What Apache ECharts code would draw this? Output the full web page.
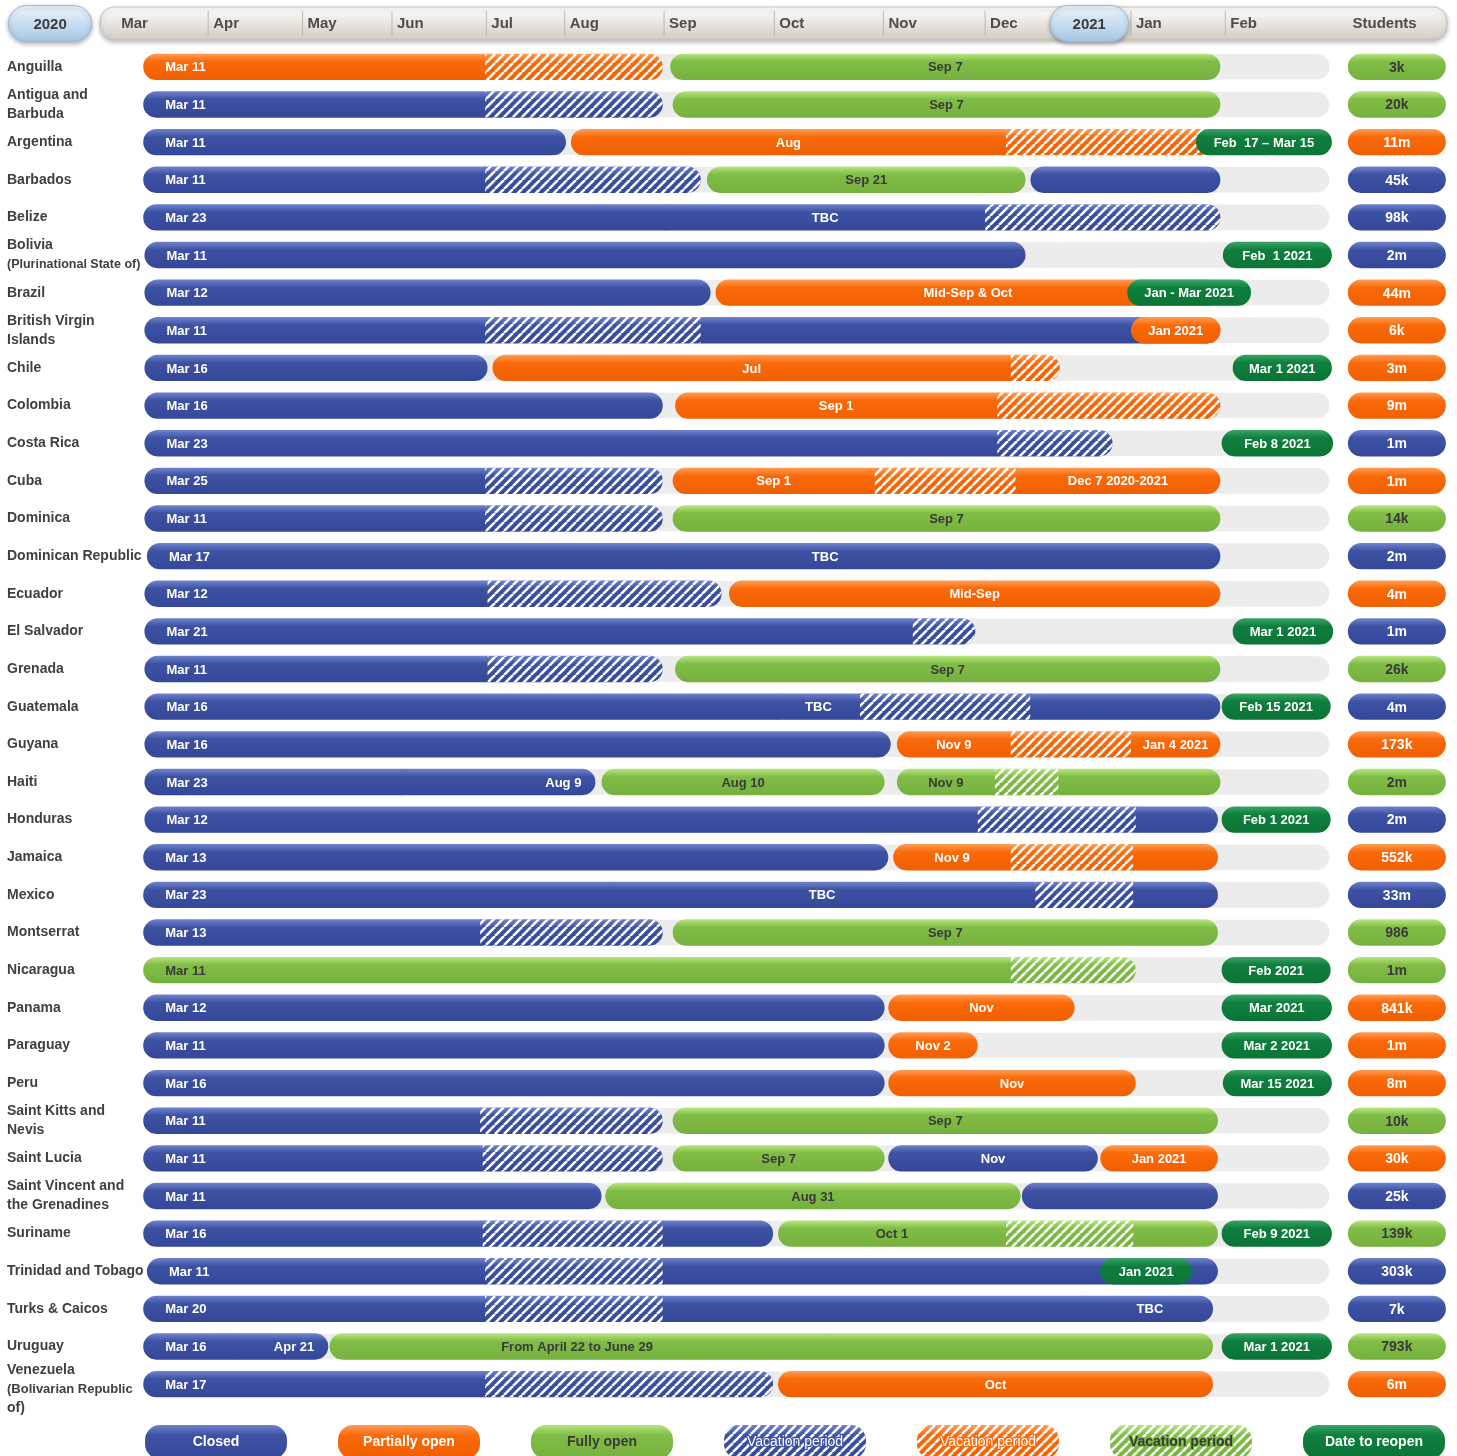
<!DOCTYPE html>
<html>
<head>
<meta charset="utf-8">
<script src="https://cdn.jsdelivr.net/npm/echarts@6/dist/echarts.min.js"></script>
<style>
html, body { margin: 0; padding: 0; background: #fff; }
#main { width: 1457px; height: 1456px; }
</style>
</head>
<body>
<div id="main"></div>
<script>
// timeline unit: 0 = left edge of the Mar column, 100 = end of the grey track
const countries = [
  'Anguilla', 'Antigua and\nBarbuda', 'Argentina', 'Barbados', 'Belize',
  'Bolivia\n(Plurinational State of)', 'Brazil', 'British Virgin\nIslands', 'Chile', 'Colombia',
  'Costa Rica', 'Cuba', 'Dominica', 'Dominican Republic', 'Ecuador',
  'El Salvador', 'Grenada', 'Guatemala', 'Guyana', 'Haiti',
  'Honduras', 'Jamaica', 'Mexico', 'Montserrat', 'Nicaragua',
  'Panama', 'Paraguay', 'Peru', 'Saint Kitts and\nNevis', 'Saint Lucia',
  'Saint Vincent and\nthe Grenadines', 'Suriname', 'Trinidad and Tobago', 'Turks & Caicos', 'Uruguay',
  'Venezuela\n(Bolivarian Republic\nof)'
];
const students = [
  '3k', '20k', '11m', '45k', '98k', '2m', '44m', '6k', '3m', '9m',
  '1m', '1m', '14k', '2m', '4m', '1m', '26k', '4m', '173k', '2m',
  '2m', '552k', '33m', '986', '1m', '841k', '1m', '8m', '10k', '30k',
  '25k', '139k', '303k', '7k', '793k', '6m'
];
const studentKinds = [
  'F', 'F', 'P', 'C', 'C', 'C', 'P', 'P', 'P', 'P',
  'C', 'P', 'F', 'C', 'P', 'C', 'F', 'C', 'P', 'F',
  'C', 'P', 'C', 'F', 'F', 'P', 'P', 'P', 'F', 'P',
  'C', 'F', 'C', 'C', 'F', 'P'
];
// C closed, P partially open, F fully open, R date to reopen; h suffix = vacation period
// [start, end, kind, label, labelAlign]
const rowPieces = [
  [[3.2, 31.1, 'P', 'Mar 11', 'l'], [31.1, 45.6, 'Ph'], [46.2, 91.1, 'F', 'Sep 7']],
  [[3.2, 31.1, 'C', 'Mar 11', 'l'], [31.1, 45.6, 'Ch'], [46.4, 91.1, 'F', 'Sep 7']],
  [[3.2, 37.7, 'C', 'Mar 11', 'l'], [38.1, 73.6, 'P', 'Aug'], [73.6, 90.7, 'Ph'], [89.1, 100.2, 'R', 'Feb  17 – Mar 15']],
  [[3.2, 31.1, 'C', 'Mar 11', 'l'], [31.1, 48.7, 'Ch'], [49.2, 75.2, 'F', 'Sep 21'], [75.6, 91.1, 'C']],
  [[3.2, 45.8, 'C', 'Mar 23', 'l'], [45.8, 71.9, 'C', 'TBC'], [71.9, 91.1, 'Ch']],
  [[3.3, 75.2, 'C', 'Mar 11', 'l'], [91.3, 100.2, 'R', 'Feb  1 2021']],
  [[3.3, 49.5, 'C', 'Mar 12', 'l'], [49.9, 91.1, 'P', 'Mid-Sep & Oct'], [83.5, 93.6, 'R', 'Jan - Mar 2021']],
  [[3.3, 31.1, 'C', 'Mar 11', 'l'], [31.1, 48.7, 'Ch'], [48.7, 91.1, 'C'], [83.8, 91.1, 'P', 'Jan 2021']],
  [[3.3, 31.3, 'C', 'Mar 16', 'l'], [31.7, 74.0, 'P', 'Jul'], [74.0, 78.0, 'Ph'], [92.1, 100.2, 'R', 'Mar 1 2021']],
  [[3.3, 45.6, 'C', 'Mar 16', 'l'], [46.6, 72.9, 'P', 'Sep 1'], [72.9, 91.1, 'Ph']],
  [[3.3, 72.9, 'C', 'Mar 23', 'l'], [72.9, 82.3, 'Ch'], [91.2, 100.3, 'R', 'Feb 8 2021']],
  [[3.3, 31.1, 'C', 'Mar 25', 'l'], [31.1, 45.6, 'Ch'], [46.4, 62.9, 'P', 'Sep 1'], [62.9, 74.4, 'Ph'], [74.4, 91.1, 'P', 'Dec 7 2020-2021']],
  [[3.3, 31.1, 'C', 'Mar 11', 'l'], [31.1, 45.6, 'Ch'], [46.4, 91.1, 'F', 'Sep 7']],
  [[3.5, 45.8, 'C', 'Mar 17', 'l'], [45.8, 71.9, 'C', 'TBC'], [71.9, 91.1, 'C']],
  [[3.3, 31.3, 'C', 'Mar 12', 'l'], [31.3, 50.4, 'Ch'], [51.0, 91.1, 'P', 'Mid-Sep']],
  [[3.3, 66.0, 'C', 'Mar 21', 'l'], [66.0, 71.1, 'Ch'], [92.1, 100.3, 'R', 'Mar 1 2021']],
  [[3.3, 31.3, 'C', 'Mar 11', 'l'], [31.3, 45.6, 'Ch'], [46.6, 91.1, 'F', 'Sep 7']],
  [[3.3, 54.9, 'C', 'Mar 16', 'l'], [54.9, 61.7, 'C', 'TBC'], [61.7, 75.6, 'Ch'], [75.6, 91.1, 'C'], [91.2, 100.1, 'R', 'Feb 15 2021']],
  [[3.3, 64.2, 'C', 'Mar 16', 'l'], [64.7, 74.0, 'P', 'Nov 9'], [74.0, 83.8, 'Ph'], [83.8, 91.1, 'P', 'Jan 4 2021']],
  [[3.3, 24.2, 'C', 'Mar 23', 'l'], [24.2, 40.1, 'C', 'Aug 9', 'r'], [40.6, 63.7, 'F', 'Aug 10'], [64.7, 72.7, 'F', 'Nov 9'], [72.7, 77.9, 'Fh'], [77.9, 91.1, 'F']],
  [[3.3, 71.3, 'C', 'Mar 12', 'l'], [71.3, 84.2, 'Ch'], [84.2, 90.9, 'C'], [91.2, 100.1, 'R', 'Feb 1 2021']],
  [[3.2, 64.0, 'C', 'Mar 13', 'l'], [64.4, 74.0, 'P', 'Nov 9'], [74.0, 84.0, 'Ph'], [84.0, 90.9, 'P']],
  [[3.2, 41.2, 'C', 'Mar 23', 'l'], [41.2, 76.0, 'C', 'TBC'], [76.0, 84.0, 'Ch'], [84.0, 90.9, 'C']],
  [[3.2, 30.7, 'C', 'Mar 13', 'l'], [30.7, 45.6, 'Ch'], [46.4, 90.9, 'F', 'Sep 7']],
  [[3.2, 74.0, 'F', 'Mar 11', 'l'], [74.0, 84.2, 'Fh'], [91.2, 100.1, 'R', 'Feb 2021']],
  [[3.2, 63.7, 'C', 'Mar 12', 'l'], [64.0, 79.2, 'P', 'Nov'], [91.2, 100.2, 'R', 'Mar 2021']],
  [[3.2, 63.7, 'C', 'Mar 11', 'l'], [64.0, 71.3, 'P', 'Nov 2'], [91.2, 100.2, 'R', 'Mar 2 2021']],
  [[3.2, 63.7, 'C', 'Mar 16', 'l'], [64.0, 84.2, 'P', 'Nov'], [91.3, 100.2, 'R', 'Mar 15 2021']],
  [[3.2, 30.7, 'C', 'Mar 11', 'l'], [30.7, 45.6, 'Ch'], [46.4, 90.9, 'F', 'Sep 7']],
  [[3.2, 30.9, 'C', 'Mar 11', 'l'], [30.9, 45.6, 'Ch'], [46.4, 63.7, 'F', 'Sep 7'], [64.0, 81.1, 'C', 'Nov'], [81.3, 90.9, 'P', 'Jan 2021']],
  [[3.2, 40.6, 'C', 'Mar 11', 'l'], [40.9, 74.8, 'F', 'Aug 31'], [74.9, 90.9, 'C']],
  [[3.2, 30.9, 'C', 'Mar 16', 'l'], [30.9, 45.6, 'Ch'], [45.6, 54.6, 'C'], [55.0, 73.6, 'F', 'Oct 1'], [73.6, 84.0, 'Fh'], [84.0, 90.9, 'F'], [91.2, 100.2, 'R', 'Feb 9 2021']],
  [[3.5, 31.1, 'C', 'Mar 11', 'l'], [31.1, 45.6, 'Ch'], [45.6, 90.9, 'C'], [81.3, 88.8, 'R', 'Jan 2021']],
  [[3.2, 31.1, 'C', 'Mar 20', 'l'], [31.1, 45.6, 'Ch'], [45.6, 80.2, 'C'], [80.2, 90.5, 'C', 'TBC']],
  [[3.2, 10.8, 'C', 'Mar 16', 'l'], [10.8, 18.3, 'C', 'Apr 21', 'r'], [18.4, 58.8, 'F', 'From April 22 to June 29'], [58.8, 90.5, 'F'], [91.2, 100.2, 'R', 'Mar 1 2021']],
  [[3.2, 31.1, 'C', 'Mar 17', 'l'], [31.1, 54.6, 'Ch'], [55.0, 90.5, 'P', 'Oct']]
];
const trackEnd = 100;
const studentsColumn = [101.5, 109.5];

const monthLabels = ['Mar', 'Apr', 'May', 'Jun', 'Jul', 'Aug', 'Sep', 'Oct', 'Nov', 'Dec', 'Jan', 'Feb'];
const monthStarts = [1.0, 8.5, 16.2, 23.5, 31.2, 37.6, 45.7, 54.7, 63.6, 71.9, 83.8, 91.5];
const yearBadges = [['2020', -7.8, -1.0], ['2021', 77.2, 83.6]];
const headerSpan = [-0.3, 109.6];
const studentsHeader = ['Students', 104.5];

const legendLabels = ['Closed', 'Partially open', 'Fully open', 'Vacation period', 'Vacation period', 'Vacation period', 'Date to reopen'];
const legendKinds = ['C', 'P', 'F', 'Ch', 'Ph', 'Fh', 'R'];

const FONT = "'Liberation Sans', Arial, sans-serif";
const palette = {
  C: { top: '#7083cf', base: '#3e52a3', bottom: '#34479a', text: '#ffffff' },
  P: { top: '#ff9d55', base: '#fb6a0a', bottom: '#f06000', text: '#ffffff' },
  F: { top: '#b8e67e', base: '#80bd46', bottom: '#76b13e', text: '#3a3a3a' },
  R: { top: '#3aa466', base: '#0f7f3e', bottom: '#0b7436', text: '#ffffff' }
};

function barFill (k) {
  const c = palette[k];
  return new echarts.graphic.LinearGradient(0, 0, 0, 1, [
    { offset: 0, color: c.top },
    { offset: 0.3, color: c.base },
    { offset: 1, color: c.bottom }
  ]);
}

// white diagonal stripes for vacation periods
const stripes = document.createElement('canvas');
stripes.width = 9;
stripes.height = 9;
const sctx = stripes.getContext('2d');
sctx.strokeStyle = '#ffffff';
sctx.lineWidth = 2.6;
sctx.beginPath();
[-9, 0, 9].forEach(o => { sctx.moveTo(o, 9); sctx.lineTo(o + 9, 0); });
sctx.stroke();
const stripeFill = { image: stripes, repeat: 'repeat' };

const pieceInfo = [];
const pieceData = [];
rowPieces.forEach((pieces, row) => {
  pieces.forEach((p, i) => {
    const base = p[2].charAt(0);
    const prev = pieces[i - 1];
    const next = pieces[i + 1];
    pieceInfo.push({
      kind: p[2],
      label: p[3] || '',
      align: p[4] || 'c',
      joinL: !!(prev && prev[1] === p[0] && prev[2].charAt(0) === base),
      joinR: !!(next && next[0] === p[1] && next[2].charAt(0) === base)
    });
    pieceData.push([p[0], p[1], row]);
  });
});
const trackData = rowPieces.map((pieces, row) => [pieces[0][0], trackEnd, row]);
const studentData = students.map((s, row) => [studentsColumn[0], studentsColumn[1], row]);

function renderTrack (params, api) {
  const a = api.coord([api.value(0), api.value(2)]);
  const b = api.coord([api.value(1), api.value(2)]);
  const h = api.size([0, 1])[1] * 0.68;
  return {
    type: 'rect',
    shape: { x: a[0], y: a[1] - h / 2, width: b[0] - a[0], height: h, r: h / 2 },
    style: { fill: '#ececec' }
  };
}

function renderPiece (params, api) {
  const d = pieceInfo[params.dataIndex];
  const a = api.coord([api.value(0), api.value(2)]);
  const b = api.coord([api.value(1), api.value(2)]);
  const h = api.size([0, 1])[1] * 0.7;
  const r = h / 2;
  const shape = {
    x: a[0], y: a[1] - h / 2, width: Math.max(b[0] - a[0], 0) + (d.joinR ? 1 : 0), height: h,
    r: [d.joinL ? 0 : r, d.joinR ? 0 : r, d.joinR ? 0 : r, d.joinL ? 0 : r]
  };
  const base = d.kind.charAt(0);
  const children = [{ type: 'rect', shape, style: { fill: barFill(base) } }];
  if (d.kind.length > 1) {
    children.push({ type: 'rect', shape: Object.assign({}, shape, { width: Math.max(b[0] - a[0], 0) }), style: { fill: stripeFill } });
  }
  if (d.label) {
    let x = (a[0] + b[0]) / 2;
    let align = 'center';
    if (d.align === 'l') { x = a[0] + 22; align = 'left'; }
    if (d.align === 'r') { x = b[0] - 14; align = 'right'; }
    children.push({
      type: 'text',
      style: {
        text: d.label, x, y: a[1] + 1, align, verticalAlign: 'middle',
        fill: palette[base].text, font: 'bold 13px ' + FONT
      }
    });
  }
  return { type: 'group', children };
}

function renderStudents (params, api) {
  const k = studentKinds[params.dataIndex];
  const a = api.coord([api.value(0), api.value(2)]);
  const b = api.coord([api.value(1), api.value(2)]);
  const h = api.size([0, 1])[1] * 0.7;
  return {
    type: 'group',
    children: [
      { type: 'rect', shape: { x: a[0], y: a[1] - h / 2, width: b[0] - a[0], height: h, r: h / 2 }, style: { fill: barFill(k) } },
      {
        type: 'text',
        style: {
          text: students[params.dataIndex], x: (a[0] + b[0]) / 2, y: a[1] + 1,
          align: 'center', verticalAlign: 'middle', fill: palette[k].text, font: 'bold 14px ' + FONT
        }
      }
    ]
  };
}

function renderHeaderBg (params, api) {
  const a = api.coord([api.value(0), 0]);
  const b = api.coord([api.value(1), 0]);
  const h = api.size([0, 1])[1];
  return {
    type: 'rect',
    shape: { x: a[0], y: a[1] - h / 2, width: b[0] - a[0], height: h, r: 14 },
    style: {
      fill: new echarts.graphic.LinearGradient(0, 0, 0, 1, [
        { offset: 0, color: '#ffffff' }, { offset: 0.45, color: '#ebe7e3' }, { offset: 1, color: '#d2cbc4' }
      ]),
      stroke: '#c9c2bb', lineWidth: 1,
      shadowBlur: 4, shadowOffsetY: 2, shadowColor: 'rgba(0,0,0,0.25)'
    }
  };
}

function renderMonth (params, api) {
  const i = params.dataIndex;
  const p = api.coord([api.value(0), 0]);
  const h = api.size([0, 1])[1];
  const children = [];
  if (i > 0) {
    children.push({
      type: 'line',
      shape: { x1: p[0], y1: p[1] - h / 2 + 4, x2: p[0], y2: p[1] + h / 2 - 4 },
      style: { stroke: '#beb7af', lineWidth: 1 }
    });
  }
  children.push({
    type: 'text',
    style: {
      text: monthLabels[i], x: p[0] + 5, y: p[1], align: 'left', verticalAlign: 'middle',
      fill: '#4d4d4d', font: 'bold 15px ' + FONT
    }
  });
  return { type: 'group', children };
}

function renderYear (params, api) {
  const a = api.coord([api.value(0), 0]);
  const b = api.coord([api.value(1), 0]);
  const h = api.size([0, 1])[1] + 3;
  return {
    type: 'group',
    children: [
      {
        type: 'rect',
        shape: { x: a[0], y: a[1] - h / 2, width: b[0] - a[0], height: h, r: h / 2 },
        style: {
          fill: new echarts.graphic.LinearGradient(0, 0, 0, 1, [
            { offset: 0, color: '#eef5fb' }, { offset: 0.5, color: '#c9def0' }, { offset: 1, color: '#a3c5e3' }
          ]),
          stroke: '#9dbcd6', lineWidth: 1,
          shadowBlur: 4, shadowOffsetY: 2, shadowColor: 'rgba(0,0,0,0.3)'
        }
      },
      {
        type: 'text',
        style: {
          text: yearBadges[params.dataIndex][0], x: (a[0] + b[0]) / 2, y: a[1] + 1,
          align: 'center', verticalAlign: 'middle', fill: '#3c3c3c', font: 'bold 15px ' + FONT
        }
      }
    ]
  };
}

function renderStudentsHeader (params, api) {
  const p = api.coord([api.value(0), 0]);
  return {
    type: 'text',
    style: {
      text: studentsHeader[0], x: p[0], y: p[1], align: 'center', verticalAlign: 'middle',
      fill: '#4d4d4d', font: 'bold 15px ' + FONT
    }
  };
}

const legendGraphics = legendLabels.map((name, i) => {
  const k = legendKinds[i];
  const base = k.charAt(0);
  const hatched = k.length > 1;
  const shape = { x: 0, y: 0, width: 142, height: 34, r: 15 };
  const children = [{ type: 'rect', shape, style: { fill: barFill(base) } }];
  if (hatched) children.push({ type: 'rect', shape, style: { fill: stripeFill } });
  children.push({
    type: 'text',
    style: {
      text: name, x: 71, y: 17, align: 'center', verticalAlign: 'middle',
      fill: palette[base].text,
      font: (hatched && base !== 'F' ? '' : 'bold ') + '14px ' + FONT,
      stroke: hatched ? palette[base].base : null,
      lineWidth: hatched ? 2.5 : 0
    }
  });
  return { type: 'group', x: 145 + i * 193, y: 1425, children };
});

const chart = echarts.init(document.getElementById('main'), null, { renderer: 'canvas' });
chart.setOption({
  animation: false,
  backgroundColor: '#ffffff',
  grid: [
    { left: 104, right: 5, top: 48, bottom: 53 },
    { left: 104, right: 5, top: 7, height: 33 }
  ],
  xAxis: [
    { gridIndex: 0, type: 'value', min: 0, max: 110, show: false },
    { gridIndex: 1, type: 'value', min: 0, max: 110, show: false }
  ],
  yAxis: [
    {
      gridIndex: 0,
      type: 'category',
      inverse: true,
      z: 5,
      data: countries,
      axisLine: { show: false },
      axisTick: { show: false },
      splitLine: { show: false },
      axisLabel: {
        interval: 0,
        align: 'left',
        margin: 97,
        formatter: v => {
          const lines = v.split('\n');
          if (lines[0] === 'Bolivia') return '{a|' + lines[0] + '}\n{s|' + lines[1] + '}';
          if (lines[0] === 'Venezuela') return '{e| }\n{a|' + lines[0] + '}\n{m|' + lines[1] + '}\n{a|' + lines[2] + '}';
          return lines.map(l => '{a|' + l + '}').join('\n');
        },
        rich: {
          a: { fontFamily: FONT, fontWeight: 'bold', fontSize: 14, color: '#404040', lineHeight: 19 },
          m: { fontFamily: FONT, fontWeight: 'bold', fontSize: 13, color: '#404040', lineHeight: 19 },
          s: { fontFamily: FONT, fontWeight: 'bold', fontSize: 12.5, color: '#404040', lineHeight: 19 },
          e: { fontSize: 8, lineHeight: 10 }
        }
      }
    },
    { gridIndex: 1, type: 'category', data: ['header'], show: false }
  ],
  graphic: legendGraphics,
  series: [
    { type: 'custom', name: 'track', xAxisIndex: 0, yAxisIndex: 0, renderItem: renderTrack, data: trackData, encode: { x: [0, 1], y: 2 }, silent: true },
    { type: 'custom', name: 'status', xAxisIndex: 0, yAxisIndex: 0, renderItem: renderPiece, data: pieceData, encode: { x: [0, 1], y: 2 } },
    { type: 'custom', name: 'students', xAxisIndex: 0, yAxisIndex: 0, renderItem: renderStudents, data: studentData, encode: { x: [0, 1], y: 2 } },
    { type: 'custom', name: 'headerBg', xAxisIndex: 1, yAxisIndex: 1, renderItem: renderHeaderBg, data: [[headerSpan[0], headerSpan[1]]], silent: true },
    { type: 'custom', name: 'months', xAxisIndex: 1, yAxisIndex: 1, renderItem: renderMonth, data: monthStarts.map(v => [v]), silent: true },
    { type: 'custom', name: 'years', xAxisIndex: 1, yAxisIndex: 1, renderItem: renderYear, data: yearBadges.map(y => [y[1], y[2]]), silent: true },
    { type: 'custom', name: 'studentsHeader', xAxisIndex: 1, yAxisIndex: 1, renderItem: renderStudentsHeader, data: [[studentsHeader[1]]], silent: true }
  ]
});
</script>
</body>
</html>
